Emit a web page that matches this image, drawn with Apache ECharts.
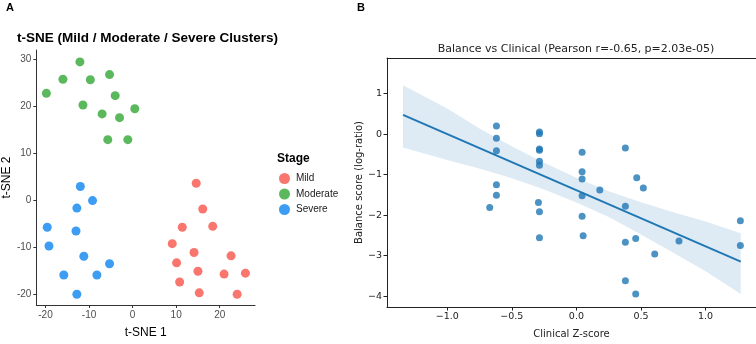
<!DOCTYPE html>
<html>
<head>
<meta charset="utf-8">
<script src="https://cdn.jsdelivr.net/npm/echarts@6/dist/echarts.min.js"></script>
<style>
  html, body { margin: 0; padding: 0; background: #fff; }
  #chart { width: 756px; height: 344px; }
</style>
</head>
<body>
<div id="chart"></div>
<script>
// panel A: t-SNE coordinates per stage
const mildX = [14.6, 16.1, 11.4, 18.4, 9.1, 14.1, 22.6, 10.1, 15.0, 21.0, 25.9, 10.8, 15.3, 24.0];
const mildY = [3.6, -1.9, -5.8, -5.6, -9.3, -11.2, -11.9, -13.4, -15.2, -15.8, -15.6, -17.5, -19.8, -20.1];
const moderateX = [-19.8, -16.0, -12.1, -9.7, -5.3, -4.0, -11.4, -7.0, -3.0, 0.5, -5.7, -1.1];
const moderateY = [22.8, 25.8, 29.5, 25.7, 26.8, 22.3, 20.3, 18.4, 17.6, 19.5, 12.9, 12.9];
const severeX = [-12.0, -9.2, -12.8, -19.6, -13.0, -19.2, -11.2, -5.3, -15.8, -8.2, -12.8];
const severeY = [2.9, -0.1, -1.7, -5.8, -6.6, -9.8, -12.0, -13.6, -16.0, -16.0, -20.1];
const tsneXTicks = [-20, -10, 0, 10, 20];
const tsneYTicks = [-20, -10, 0, 10, 20, 30];

// panel B: clinical z-score vs balance score
const clinicalZ = [-0.619, -0.619, -0.619, -0.619, -0.619, -0.671,
  -0.286, -0.286, -0.286, -0.286, -0.286, -0.286, -0.294, -0.286, -0.286,
  0.044, 0.044, 0.044, 0.044, 0.044, 0.052, 0.181,
  0.379, 0.379, 0.379, 0.379, 0.459, 0.459, 0.467, 0.518, 0.606, 0.794, 1.269, 1.269];
const balance = [0.20, -0.10, -0.41, -1.25, -1.51, -1.81,
  0.05, 0.01, -0.37, -0.40, -0.67, -0.77, -1.69, -1.92, -2.56,
  -0.45, -0.93, -1.11, -1.52, -2.03, -2.51, -1.38,
  -0.34, -1.78, -2.67, -3.62, -2.58, -3.95, -1.08, -1.33, -2.96, -2.64, -2.14, -2.75];
const fitX = [-1.342, 1.272];
const fitY = [0.474, -3.15];
const bandX = [-1.342, -1.0, -0.75, -0.5, -0.25, 0, 0.25, 0.5, 0.75, 1.0, 1.272];
const bandLo = [-0.33, -0.64, -0.85, -1.09, -1.37, -1.69, -2.05, -2.48, -2.93, -3.39, -3.95];
const bandHi = [1.21, 0.63, 0.14, -0.30, -0.71, -1.08, -1.41, -1.68, -1.93, -2.16, -2.45];
const zTicks = [-1.0, -0.5, 0.0, 0.5, 1.0];
const balanceTicks = [-4, -3, -2, -1, 0, 1];

const ggFont = "Liberation Sans, Arial, sans-serif";
const mplFont = "DejaVu Sans, sans-serif";
const zip = (xs, ys) => xs.map((x, i) => [x, ys[i]]);
const mplNum = (v, digits) => v.toFixed(digits).replace("-", "\u2212");

const chart = echarts.init(document.getElementById("chart"), null, { renderer: "canvas" });

const ggAxis = (ticks, extra) => Object.assign({
    type: "value",
    axisLine: { show: true, onZero: false, lineStyle: { color: "#333", width: 1 } },
    axisTick: { show: true, customValues: ticks, length: 3, lineStyle: { color: "#333" } },
    axisLabel: { customValues: ticks, color: "#4d4d4d", fontSize: 10, fontFamily: ggFont, margin: 5 },
    splitLine: { show: false }
}, extra);

const mplAxis = (ticks, digits, extra) => Object.assign({
    type: "value",
    axisLine: { show: true, onZero: false, lineStyle: { color: "#222", width: 1 } },
    axisTick: { show: true, customValues: ticks, length: 3.5, lineStyle: { color: "#222" } },
    axisLabel: { customValues: ticks, color: "#222", fontSize: 9.5, fontFamily: mplFont, margin: 5,
        formatter: v => mplNum(v, digits) },
    splitLine: { show: false }
}, extra);

const option = {
    backgroundColor: "#fff",
    animation: false,
    title: [
        { text: "A", left: 1, top: -3, textStyle: { fontSize: 11, fontWeight: "bold", fontFamily: ggFont, color: "#000" } },
        { text: "B", left: 352, top: -3, textStyle: { fontSize: 11, fontWeight: "bold", fontFamily: ggFont, color: "#000" } },
        { text: "t-SNE (Mild / Moderate / Severe Clusters)", left: 12, top: 26,
            textStyle: { fontSize: 13.5, fontWeight: "bold", fontFamily: ggFont, color: "#000" } },
        { text: "Stage", left: 272, top: 148, textStyle: { fontSize: 12, fontWeight: "bold", fontFamily: ggFont, color: "#000" } },
        { text: "Balance vs Clinical (Pearson r=-0.65, p=2.03e-05)", left: 571, textAlign: "center", top: 39,
            textStyle: { fontSize: 11, fontWeight: "normal", fontFamily: mplFont, color: "#222" } }
    ],
    legend: {
        data: ["Mild", "Moderate", "Severe"],
        orient: "vertical",
        left: 274,
        top: 168,
        icon: "circle",
        itemWidth: 11,
        itemHeight: 11,
        itemGap: 4.5,
        textStyle: { fontSize: 10, fontFamily: ggFont, color: "#1a1a1a", padding: [0, 0, 0, 1] }
    },
    grid: [
        { left: 36, top: 50, width: 219, height: 260 },
        { left: 387, top: 58, width: 369, height: 260 }
    ],
    xAxis: [
        ggAxis(tsneXTicks, { gridIndex: 0, min: -22.1, max: 28.1, name: "t-SNE 1", nameLocation: "middle", nameGap: 22,
            nameTextStyle: { fontSize: 12, fontFamily: ggFont, color: "#000" } }),
        mplAxis(zTicks, 1, { gridIndex: 1, min: -1.466, max: 1.39, name: "Clinical Z-score", nameLocation: "middle", nameGap: 22,
            nameTextStyle: { fontSize: 10, fontFamily: mplFont, color: "#222" } }),
        { type: "value", gridIndex: 1, position: "top", min: -1.466, max: 1.39,
            axisLine: { show: true, onZero: false, lineStyle: { color: "#222", width: 1 } },
            axisTick: { show: false }, axisLabel: { show: false }, splitLine: { show: false } }
    ],
    yAxis: [
        ggAxis(tsneYTicks, { gridIndex: 0, min: -22.4, max: 32.05, name: "t-SNE 2", nameLocation: "middle", nameGap: 23,
            nameTextStyle: { fontSize: 12, fontFamily: ggFont, color: "#000" } }),
        mplAxis(balanceTicks, 0, { gridIndex: 1, min: -4.27, max: 1.88, name: "Balance score (log-ratio)", nameLocation: "middle", nameGap: 22,
            nameTextStyle: { fontSize: 10, fontFamily: mplFont, color: "#222" } })
    ],
    series: [
        { name: "Mild", type: "scatter", xAxisIndex: 0, yAxisIndex: 0, symbolSize: 9, data: zip(mildX, mildY),
            itemStyle: { color: "#f8766d", opacity: 1 } },
        { name: "Moderate", type: "scatter", xAxisIndex: 0, yAxisIndex: 0, symbolSize: 9, data: zip(moderateX, moderateY),
            itemStyle: { color: "#5cb85c", opacity: 1 } },
        { name: "Severe", type: "scatter", xAxisIndex: 0, yAxisIndex: 0, symbolSize: 9, data: zip(severeX, severeY),
            itemStyle: { color: "#3d9df2", opacity: 1 } },
        {
            name: "ci", type: "custom", xAxisIndex: 1, yAxisIndex: 1, silent: true, z: 1,
            data: bandX.map((x, i) => [x, bandLo[i], bandHi[i]]),
            encode: { x: 0, y: [1, 2] },
            renderItem: (params, api) => {
                if (params.dataIndex !== 0) {
                    return null;
                }
                const upper = bandX.map((x, i) => api.coord([x, bandHi[i]]));
                const lower = bandX.map((x, i) => api.coord([x, bandLo[i]])).reverse();
                return {
                    type: "polygon",
                    shape: { points: upper.concat(lower) },
                    style: { fill: "rgba(31, 119, 180, 0.15)" }
                };
            }
        },
        { name: "points", type: "scatter", xAxisIndex: 1, yAxisIndex: 1, symbolSize: 7, z: 2,
            data: zip(clinicalZ, balance), itemStyle: { color: "#1f77b4", opacity: 0.8 } },
        { name: "fit", type: "line", xAxisIndex: 1, yAxisIndex: 1, showSymbol: false, z: 3,
            data: zip(fitX, fitY), lineStyle: { color: "#1f77b4", width: 2 } }
    ]
};

chart.setOption(option);
</script>
</body>
</html>
